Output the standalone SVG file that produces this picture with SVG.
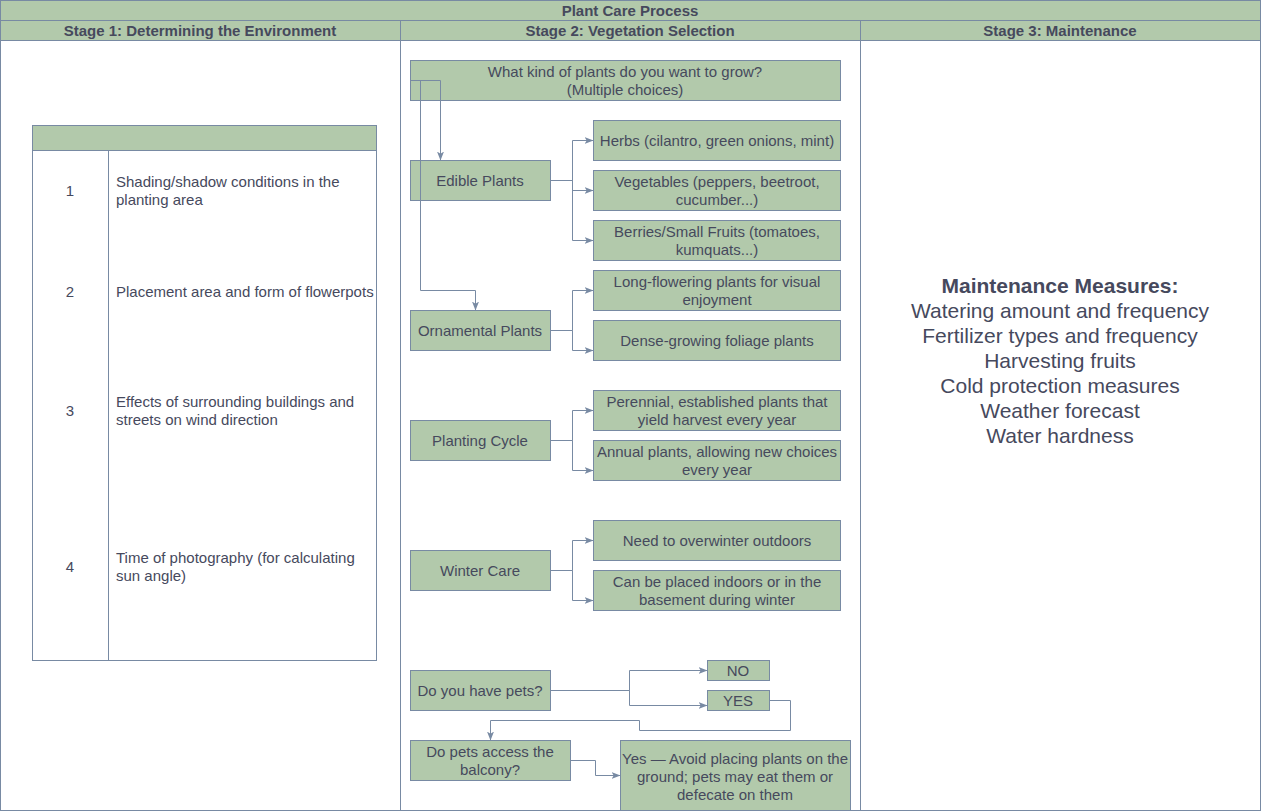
<svg xmlns="http://www.w3.org/2000/svg" width="1261" height="811" viewBox="0 0 1261 811">
<style>
  .bg{fill:#ffffff}
  .box{fill:#B2C9AB;stroke:#788AA3;stroke-width:1}
  .frame{fill:none;stroke:#788AA3;stroke-width:1}
  .white{fill:#ffffff;stroke:#788AA3;stroke-width:1}
  .t{font-family:"Liberation Sans",Arial,sans-serif;font-size:15px;fill:#46495D}
  .c{text-anchor:middle}
  .b{font-weight:bold}
  .big{font-size:21px}
  .conn path{fill:none;stroke:#788AA3;stroke-width:1}
  .arr{marker-end:url(#ah)}
</style>
<defs>
  <marker id="ah" markerUnits="userSpaceOnUse" markerWidth="9" markerHeight="8" viewBox="0 0 9 8" refX="9" refY="4" orient="auto">
    <path d="M0,0.5 L9,4 L0,7.5 L2.2,4 Z" fill="#788AA3" stroke="none"/>
  </marker>
</defs>
<rect class="bg" x="0" y="0" width="1261" height="811"/>

<g id="pool">
  <rect class="box" x="0.5" y="0.5" width="1260" height="20"/>
  <text class="t c b" x="630" y="15.5">Plant Care Process</text>
</g>
<g id="lane1">
  <rect class="box" x="0.5" y="20.5" width="400" height="20"/>
  <rect class="frame" x="0.5" y="40.5" width="400" height="770"/>
  <text class="t c b" x="200" y="35.5">Stage 1: Determining the Environment</text>
</g>
<g id="lane2">
  <rect class="box" x="400.5" y="20.5" width="460" height="20"/>
  <rect class="frame" x="400.5" y="40.5" width="460" height="770"/>
  <text class="t c b" x="630" y="35.5">Stage 2: Vegetation Selection</text>
</g>
<g id="lane3">
  <rect class="box" x="860.5" y="20.5" width="400" height="20"/>
  <rect class="frame" x="860.5" y="40.5" width="400" height="770"/>
  <text class="t c b" x="1060" y="35.5">Stage 3: Maintenance</text>
</g>

<g id="env-table">
  <rect class="box" x="32.5" y="125.5" width="344" height="25"/>
  <rect class="white" x="32.5" y="150.5" width="344" height="510"/>
  <line x1="108.5" y1="150.5" x2="108.5" y2="660.5" stroke="#788AA3" stroke-width="1"/>
  <text class="t c" x="70" y="196">1</text>
  <text class="t" x="116" y="187">Shading/shadow conditions in the</text>
  <text class="t" x="116" y="205">planting area</text>
  <text class="t c" x="70" y="296.5">2</text>
  <text class="t" x="116" y="296.5">Placement area and form of flowerpots</text>
  <text class="t c" x="70" y="416">3</text>
  <text class="t" x="116" y="407">Effects of surrounding buildings and</text>
  <text class="t" x="116" y="425">streets on wind direction</text>
  <text class="t c" x="70" y="571.5">4</text>
  <text class="t" x="116" y="562.5">Time of photography (for calculating</text>
  <text class="t" x="116" y="580.5">sun angle)</text>
</g>

<g id="q-plants">
  <rect class="box" x="410.5" y="60.5" width="430" height="40"/>
  <text class="t c" x="625" y="77">What kind of plants do you want to grow?</text>
  <text class="t c" x="625" y="95">(Multiple choices)</text>
</g>
<g id="edible">
  <rect class="box" x="410.5" y="160.5" width="140" height="40"/>
  <text class="t c" x="480" y="186">Edible Plants</text>
</g>
<g id="herbs">
  <rect class="box" x="593.5" y="120.5" width="247" height="40"/>
  <text class="t c" x="717" y="146">Herbs (cilantro, green onions, mint)</text>
</g>
<g id="vegetables">
  <rect class="box" x="593.5" y="170.5" width="247" height="40"/>
  <text class="t c" x="717" y="187">Vegetables (peppers, beetroot,</text>
  <text class="t c" x="717" y="205">cucumber...)</text>
</g>
<g id="berries">
  <rect class="box" x="593.5" y="220.5" width="247" height="40"/>
  <text class="t c" x="717" y="237">Berries/Small Fruits (tomatoes,</text>
  <text class="t c" x="717" y="255">kumquats...)</text>
</g>
<g id="longflower">
  <rect class="box" x="593.5" y="270.5" width="247" height="40"/>
  <text class="t c" x="717" y="287">Long-flowering plants for visual</text>
  <text class="t c" x="717" y="305">enjoyment</text>
</g>
<g id="foliage">
  <rect class="box" x="593.5" y="320.5" width="247" height="40"/>
  <text class="t c" x="717" y="346">Dense-growing foliage plants</text>
</g>
<g id="ornamental">
  <rect class="box" x="410.5" y="310.5" width="140" height="40"/>
  <text class="t c" x="480" y="336">Ornamental Plants</text>
</g>
<g id="cycle">
  <rect class="box" x="410.5" y="420.5" width="140" height="40"/>
  <text class="t c" x="480" y="446">Planting Cycle</text>
</g>
<g id="perennial">
  <rect class="box" x="593.5" y="390.5" width="247" height="40"/>
  <text class="t c" x="717" y="407">Perennial, established plants that</text>
  <text class="t c" x="717" y="425">yield harvest every year</text>
</g>
<g id="annual">
  <rect class="box" x="593.5" y="440.5" width="247" height="40"/>
  <text class="t c" x="717" y="457">Annual plants, allowing new choices</text>
  <text class="t c" x="717" y="475">every year</text>
</g>
<g id="winter">
  <rect class="box" x="410.5" y="550.5" width="140" height="40"/>
  <text class="t c" x="480" y="576">Winter Care</text>
</g>
<g id="outdoors">
  <rect class="box" x="593.5" y="520.5" width="247" height="40"/>
  <text class="t c" x="717" y="546">Need to overwinter outdoors</text>
</g>
<g id="indoors">
  <rect class="box" x="593.5" y="570.5" width="247" height="40"/>
  <text class="t c" x="717" y="587">Can be placed indoors or in the</text>
  <text class="t c" x="717" y="605">basement during winter</text>
</g>
<g id="pets">
  <rect class="box" x="410.5" y="670.5" width="140" height="40"/>
  <text class="t c" x="480" y="696">Do you have pets?</text>
</g>
<g id="no">
  <rect class="box" x="707.5" y="660.5" width="62" height="20"/>
  <text class="t c" x="738" y="676">NO</text>
</g>
<g id="yes">
  <rect class="box" x="707.5" y="690.5" width="62" height="20"/>
  <text class="t c" x="738" y="706">YES</text>
</g>
<g id="balcony">
  <rect class="box" x="410.5" y="740.5" width="160" height="40"/>
  <text class="t c" x="490" y="757">Do pets access the</text>
  <text class="t c" x="490" y="775">balcony?</text>
</g>
<g id="avoid">
  <rect class="box" x="620.5" y="740.5" width="230" height="70"/>
  <text class="t c" x="735" y="763.5">Yes — Avoid placing plants on the</text>
  <text class="t c" x="735" y="781.5">ground; pets may eat them or</text>
  <text class="t c" x="735" y="799.5">defecate on them</text>
</g>

<g id="maintenance">
  <text class="t c b big" x="1060" y="293">Maintenance Measures:</text>
  <text class="t c big" x="1060" y="318">Watering amount and frequency</text>
  <text class="t c big" x="1060" y="343">Fertilizer types and frequency</text>
  <text class="t c big" x="1060" y="368">Harvesting fruits</text>
  <text class="t c big" x="1060" y="393">Cold protection measures</text>
  <text class="t c big" x="1060" y="418">Weather forecast</text>
  <text class="t c big" x="1060" y="443">Water hardness</text>
</g>

<g id="connectors" class="conn">
  <path class="arr" d="M410.5,80.5 H440.5 V160.5"/>
  <path class="arr" d="M410.5,80.5 H420.5 V290.5 H475.5 V310.5"/>
  <path class="arr" d="M550.5,180.5 H572.5 V140.5 H593.5"/>
  <path class="arr" d="M550.5,180.5 H572.5 V190.5 H593.5"/>
  <path class="arr" d="M550.5,180.5 H572.5 V240.5 H593.5"/>
  <path class="arr" d="M550.5,330.5 H572.5 V290.5 H593.5"/>
  <path class="arr" d="M550.5,330.5 H572.5 V350.5 H593.5"/>
  <path class="arr" d="M550.5,440.5 H572.5 V410.5 H593.5"/>
  <path class="arr" d="M550.5,440.5 H572.5 V470.5 H593.5"/>
  <path class="arr" d="M550.5,570.5 H572.5 V540.5 H593.5"/>
  <path class="arr" d="M550.5,570.5 H572.5 V600.5 H593.5"/>
  <path class="arr" d="M550.5,690.5 H629.5 V670.5 H707.5"/>
  <path class="arr" d="M550.5,690.5 H629.5 V705.5 H707.5"/>
  <path class="arr" d="M769.5,700.5 H790.5 V730.5 H639.5 V720.5 H490.5 V740.5"/>
  <path class="arr" d="M570.5,760.5 H595.5 V775.5 H620.5"/>
</g>
</svg>
